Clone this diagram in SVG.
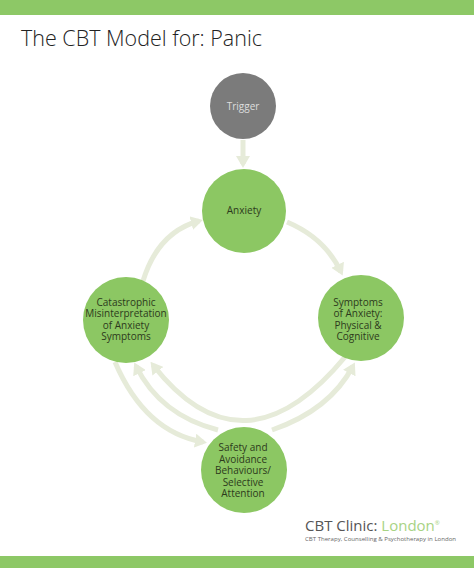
<svg xmlns="http://www.w3.org/2000/svg" width="474" height="568" viewBox="0 0 474 568">
<style>
.node{fill:#8cc763}
.lbl{font-family:"Open Sans","Liberation Sans",sans-serif;font-size:10px;fill:#2c3a1c;text-anchor:middle}
.con{fill:none;stroke:#e6ebd9;stroke-width:5}
</style>
<defs>
<marker id="ah" viewBox="0 0 12 14" markerWidth="12" markerHeight="14" refX="8" refY="7" orient="auto" markerUnits="userSpaceOnUse">
<path d="M0,0 L12,7 L0,14 z" fill="#e6ebd9"/>
</marker>
</defs>
<rect x="0" y="0" width="474" height="15" fill="#8dc866"/>
<rect x="0" y="556" width="474" height="12" fill="#8dc866"/>
<text x="21" y="46" font-family="Open Sans, Liberation Sans, sans-serif" font-weight="300" font-size="22" fill="#222" textLength="241" lengthAdjust="spacingAndGlyphs">The CBT Model for: Panic</text>
<g id="connectors">
<path class="con" d="M243,140 L243,164" marker-end="url(#ah)"/>
<path class="con" d="M143,281 Q158,232 199,221" marker-end="url(#ah)"/>
<path class="con" d="M287,222 Q325,238 341,272" marker-end="url(#ah)"/>
<path class="con" d="M345,357 Q243,480 153,365" marker-end="url(#ah)"/>
<path class="con" d="M115,362 Q145,432 203,442" marker-end="url(#ah)"/>
<path class="con" d="M218,430 Q160,415 136,366" marker-end="url(#ah)"/>
<path class="con" d="M272,430 Q330,410 353,366" marker-end="url(#ah)"/>
</g>
<g id="trigger">
<circle cx="243" cy="106" r="33" fill="#7b7b7b"/>
<text class="lbl" x="243" y="109.5" style="fill:#dedede">Trigger</text>
</g>
<g id="anxiety">
<circle class="node" cx="244" cy="211" r="42"/>
<text class="lbl" x="244" y="214">Anxiety</text>
</g>
<g id="catastrophic">
<circle class="node" cx="126" cy="320" r="43"/>
<text class="lbl" x="126" y="306">Catastrophic</text>
<text class="lbl" x="126" y="317.3">Misinterpretation</text>
<text class="lbl" x="126" y="328.6">of Anxiety</text>
<text class="lbl" x="126" y="340">Symptoms</text>
</g>
<g id="symptoms">
<circle class="node" cx="361" cy="318" r="43"/>
<text class="lbl" x="358" y="306">Symptoms</text>
<text class="lbl" x="358" y="317.3">of Anxiety:</text>
<text class="lbl" x="358" y="328.6">Physical &amp;</text>
<text class="lbl" x="358" y="340">Cognitive</text>
</g>
<g id="safety">
<circle class="node" cx="244" cy="470" r="43"/>
<text class="lbl" x="243" y="451">Safety and</text>
<text class="lbl" x="243" y="462.5">Avoidance</text>
<text class="lbl" x="243" y="474">Behaviours/</text>
<text class="lbl" x="243" y="485.5">Selective</text>
<text class="lbl" x="243" y="497">Attention</text>
</g>
<g id="footer">
<text x="305" y="531" font-family="Open Sans, Liberation Sans, sans-serif" font-size="15" fill="#555">CBT Clinic: <tspan fill="#a8d384">London</tspan><tspan font-size="6" dy="-6" fill="#a8d384">®</tspan></text>
<text x="305" y="540.5" font-family="Open Sans, Liberation Sans, sans-serif" font-size="6" fill="#666" textLength="151" lengthAdjust="spacingAndGlyphs">CBT Therapy, Counselling &amp; Psychotherapy in London</text>
</g>
</svg>
